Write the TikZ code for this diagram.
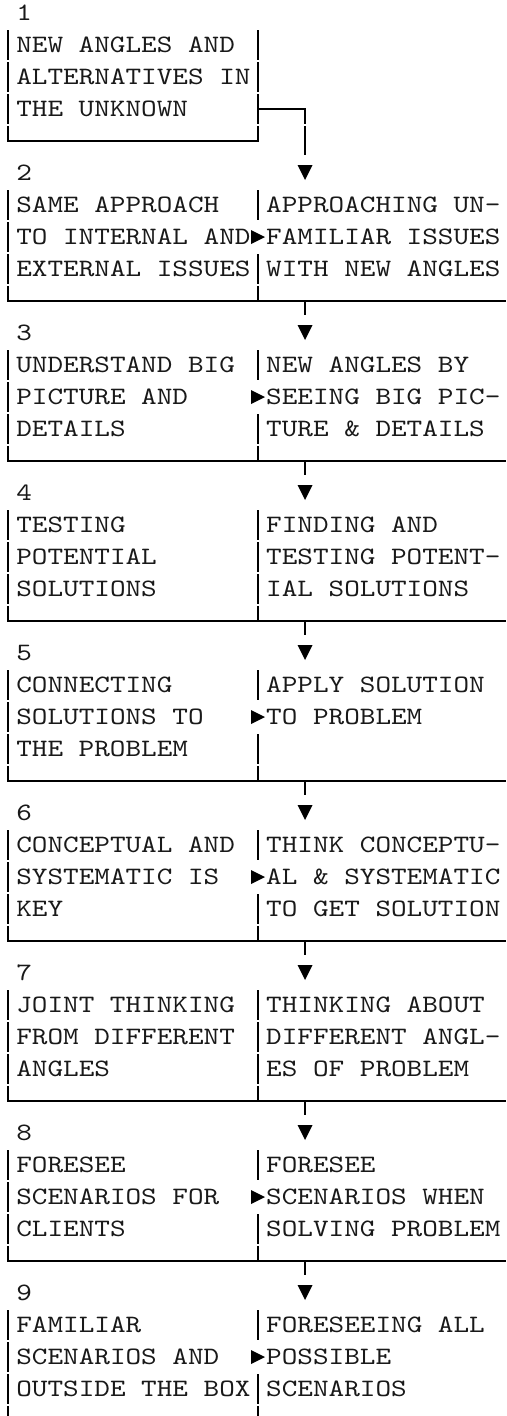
\documentclass[tikz,border=0pt]{standalone}
\usepackage{fontspec}
\newfontfamily\gridfont{lmmono10-regular.otf}[FakeStretch=1.19]
\begin{document}
\begin{tikzpicture}[x=1pt,y=-1pt,
  gridtext/.style={anchor=base west, inner sep=0pt, text=black!90,
    font=\gridfont\fontsize{25}{32}\selectfont},
  rule/.style={line width=2pt, black, line join=miter},
  pointer/.style={fill=black}]
\fill[white] (0,0) rectangle (506,1416);
\useasboundingbox (0,0) rectangle (506,1416);

% ---- step 1: a single box whose exit runs right, then down
\node[gridtext] (num-1) at (16.1,20.5) {1};
\node[gridtext] (L-1-1) at (16.1,52.5) {NEW ANGLES AND};
\node[gridtext] (L-1-2) at (16.1,84.5) {ALTERNATIVES IN};
\node[gridtext] (L-1-3) at (16.1,116.5) {THE UNKNOWN};
\foreach \i in {1,2,3} {
  \draw[rule] (8.3,32*\i-2) -- (8.3,32*\i+28);
  \draw[rule] (258.2,32*\i-2) -- (258.2,32*\i+28);
}
\draw[rule] (8.3,126) -- (8.3,141) -- (258.2,141) -- (258.2,126);
\coordinate (exit-1) at (258.2,109);
\coordinate (bend-1) at (305.1,109);
\coordinate (tip-2) at (305.1,173);
\draw[rule] (exit-1) -- (bend-1) -- ([yshift=49pt]tip-2);
\draw[rule] ([yshift=47pt]tip-2) -- ([yshift=18pt]tip-2);
\fill[pointer] ([shift={(-7.5,-8)}]tip-2) -- ([shift={(7.5,-8)}]tip-2)
  -- ([shift={(0,7)}]tip-2) -- cycle;

% ---- steps 2 to 9: two boxes side by side
\foreach \k/\la/\lb/\lc/\ua/\ub/\uc/\pt in {
 2/SAME APPROACH/TO INTERNAL AND/EXTERNAL ISSUES/APPROACHING UN-/FAMILIAR ISSUES/WITH NEW ANGLES/1,
 3/UNDERSTAND BIG/PICTURE AND/DETAILS/NEW ANGLES BY/SEEING BIG PIC-/TURE \& DETAILS/1,
 4/TESTING/POTENTIAL/SOLUTIONS/FINDING AND/TESTING POTENT-/IAL SOLUTIONS/0,
 5/CONNECTING/SOLUTIONS TO/THE PROBLEM/APPLY SOLUTION/TO PROBLEM/{}/1,
 6/CONCEPTUAL AND/SYSTEMATIC IS/KEY/THINK CONCEPTU-/AL \& SYSTEMATIC/TO GET SOLUTION/1,
 7/JOINT THINKING/FROM DIFFERENT/ANGLES/THINKING ABOUT/DIFFERENT ANGL-/ES OF PROBLEM/0,
 8/FORESEE/SCENARIOS FOR/CLIENTS/FORESEE/SCENARIOS WHEN/SOLVING PROBLEM/1,
 9/FAMILIAR/SCENARIOS AND/OUTSIDE THE BOX/FORESEEING ALL/POSSIBLE/SCENARIOS/1}
{
  \pgfmathtruncatemacro\yy{160*(\k-1)}
  \pgfmathtruncatemacro\nk{\k+1}
  % labels
  \node[gridtext] (num-\k) at (16.1,\yy+20.5) {\k};
  \node[gridtext] (L-\k-1) at (16.1,\yy+52.5) {\la};
  \node[gridtext] (L-\k-2) at (16.1,\yy+84.5) {\lb};
  \node[gridtext] (L-\k-3) at (16.1,\yy+116.5) {\lc};
  \node[gridtext] (R-\k-1) at (266.0,\yy+52.5) {\ua};
  \node[gridtext] (R-\k-2) at (266.0,\yy+84.5) {\ub};
  \node[gridtext] (R-\k-3) at (266.0,\yy+116.5) {\uc};
  % left frame
  \foreach \i in {1,2,3}
    \draw[rule] (8.3,\yy+32*\i-2) -- (8.3,\yy+32*\i+28);
  % middle divider, or the pointer from left box to right box
  \draw[rule] (258.2,\yy+30) -- (258.2,\yy+60);
  \ifnum\pt=1
    \coordinate (point-\k) at (258.2,\yy+77);
    \fill[pointer] ([shift={(-7.2,-7)}]point-\k) -- ([shift={(6.8,0)}]point-\k)
      -- ([shift={(-7.2,7)}]point-\k) -- cycle;
  \else
    \draw[rule] (258.2,\yy+62) -- (258.2,\yy+92);
  \fi
  \draw[rule] (258.2,\yy+94) -- (258.2,\yy+124);
  % bottom rule and the drop to the next step
  \ifnum\k<9
    \draw[rule] (8.3,\yy+126) -- (8.3,\yy+141) -- (506,\yy+141);
    \draw[rule] (258.2,\yy+126) -- (258.2,\yy+141);
    \coordinate (foot-\k) at (305.1,\yy+141);
    \coordinate (tip-\nk) at (305.1,\yy+173);
    \draw[rule] (foot-\k) -- ([yshift=-14pt]foot-\k);
    \fill[pointer] ([shift={(-7.5,-8)}]tip-\nk) -- ([shift={(7.5,-8)}]tip-\nk)
      -- ([shift={(0,7)}]tip-\nk) -- cycle;
  \else
    \draw[rule] (8.3,\yy+126) -- (8.3,1416);
    \draw[rule] (258.2,\yy+126) -- (258.2,1416);
  \fi
}
\end{tikzpicture}
\end{document}
